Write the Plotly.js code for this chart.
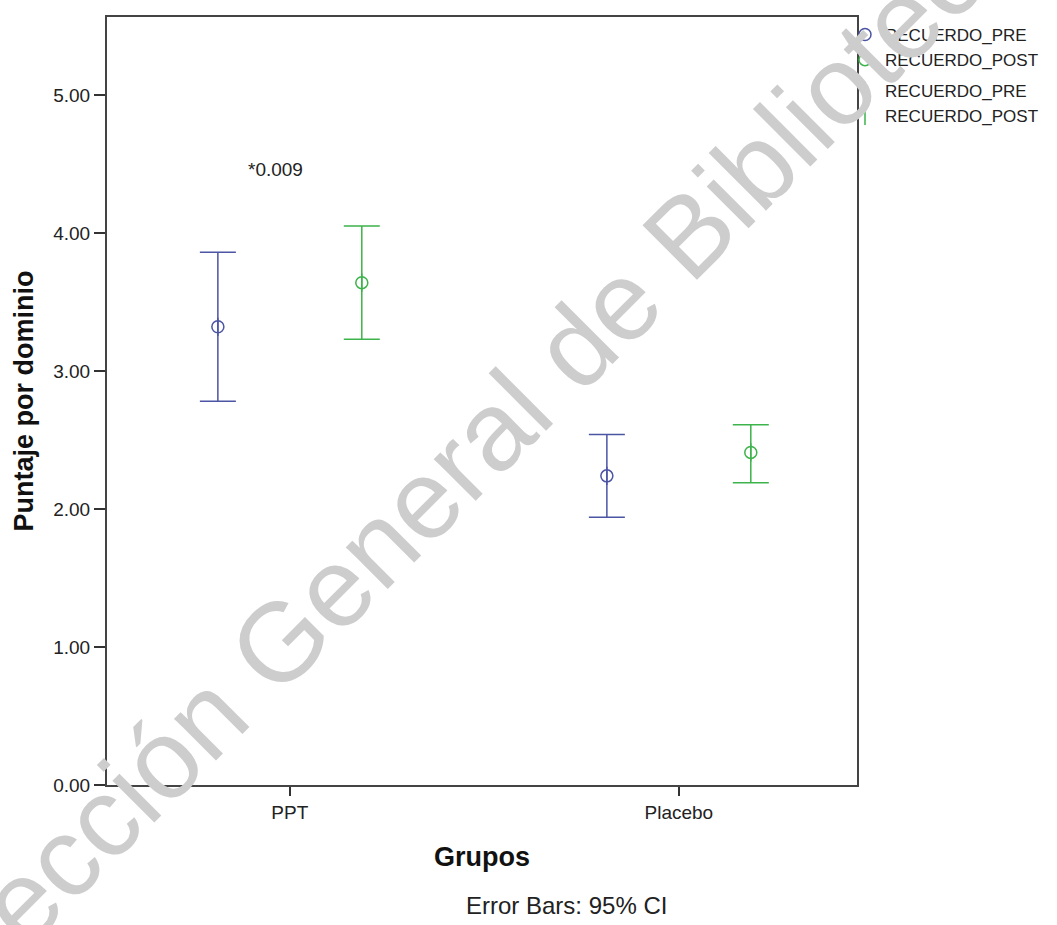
<!DOCTYPE html>
<html>
<head>
<meta charset="utf-8">
<script src="https://cdn.plot.ly/plotly-3.0.1.min.js"></script>
<style>html,body{margin:0;padding:0;background:#fff;}#chart{width:1057px;height:925px;}</style>
</head>
<body>
<div id="chart"></div>
<script>
// ---- data ----
const groups = ['PPT', 'Placebo'];
const preMean  = [3.32, 2.24];
const preUpper = [3.86, 2.54];
const preLower = [2.78, 1.94];
const postMean  = [3.64, 2.41];
const postUpper = [4.05, 2.61];
const postLower = [3.23, 2.19];
const seriesNames = ['RECUERDO_PRE', 'RECUERDO_POST'];
const yTicks = [0, 1, 2, 3, 4, 5];
const sigLabel = '*0.009';
const footnote = 'Error Bars: 95% CI';
const watermark = 'Colección General de Biblioteca';

// ---- style ----
const PRE_COLOR = '#4b55a3';
const POST_COLOR = '#3db34b';
const OFFSET = 0.185;
const FONT = 'Liberation Sans, Arial, sans-serif';

const idx = groups.map((g, i) => i);
const xPre = idx.map(i => i - OFFSET);
const xPost = idx.map(i => i + OFFSET);

function errTrace(x, mean, upper, lower, color, name) {
  return {
    type: 'scatter', mode: 'markers', x: x, y: mean, name: name,
    legendgroup: 'bars', hoverinfo: 'skip',
    marker: {symbol: 'line-ns-open', size: 13, color: color, line: {color: color, width: 1.5}},
    error_y: {type: 'data', symmetric: false,
      array: upper.map((u, i) => u - mean[i]),
      arrayminus: lower.map((l, i) => mean[i] - l),
      color: color, thickness: 1.5, width: 18}
  };
}
function ptTrace(x, mean, color, name) {
  return {
    type: 'scatter', mode: 'markers', x: x, y: mean, name: name,
    legendgroup: 'pts',
    marker: {symbol: 'circle-open', size: 12, color: color, line: {color: color, width: 1.5}}
  };
}

const data = [
  ptTrace(xPre, preMean, PRE_COLOR, seriesNames[0]),
  ptTrace(xPost, postMean, POST_COLOR, seriesNames[1]),
  errTrace(xPre, preMean, preUpper, preLower, PRE_COLOR, seriesNames[0]),
  errTrace(xPost, postMean, postUpper, postLower, POST_COLOR, seriesNames[1])
];

const layout = {
  width: 1057, height: 925,
  margin: {l: 107, r: 200, t: 17, b: 140},
  paper_bgcolor: '#ffffff', plot_bgcolor: '#ffffff',
  font: {family: FONT, color: '#222', size: 18},
  showlegend: true,
  legend: {x: 0.984, xanchor: 'left', y: 1.0, yanchor: 'top',
    bgcolor: 'rgba(0,0,0,0)', font: {family: FONT, size: 17, color: '#222'},
    traceorder: 'grouped', tracegroupgap: 6, itemwidth: 30},
  xaxis: {
    range: [-0.47, 1.458], tickmode: 'array', tickvals: idx, ticktext: groups,
    ticks: 'outside', ticklen: 9, tickwidth: 2, tickcolor: '#333',
    showline: true, linecolor: '#444', linewidth: 2, mirror: true,
    showgrid: false, zeroline: false,
    tickfont: {family: FONT, size: 19, color: '#222'},
    title: {text: 'Grupos', standoff: 25, font: {family: FONT, size: 27, color: '#111', weight: 'bold'}}
  },
  yaxis: {
    range: [0, 5.565], tickmode: 'array', tickvals: yTicks, tickformat: '.2f',
    ticks: 'outside', ticklen: 11, tickwidth: 2, tickcolor: '#333',
    showline: true, linecolor: '#444', linewidth: 2, mirror: true,
    showgrid: false, zeroline: false,
    tickfont: {family: FONT, size: 19, color: '#222'},
    title: {text: 'Puntaje por dominio', standoff: 12, font: {family: FONT, size: 27, color: '#111', weight: 'bold'}}
  },
  annotations: [
    {x: 0.449, y: 0.399, xref: 'paper', yref: 'paper', text: watermark, showarrow: false,
     textangle: -45, font: {family: FONT, size: 112, color: '#cdcdcd'}},
    {x: -0.036, y: 4.457, xref: 'x', yref: 'y', text: sigLabel, showarrow: false,
     font: {family: FONT, size: 19, color: '#222'}},
    {x: 0.612, y: -0.157, xref: 'paper', yref: 'paper', text: footnote, showarrow: false,
     xanchor: 'center', yanchor: 'middle', font: {family: FONT, size: 24, color: '#222'}}
  ]
};

Plotly.newPlot('chart', data, layout, {displayModeBar: false, staticPlot: true});
</script>
</body>
</html>
